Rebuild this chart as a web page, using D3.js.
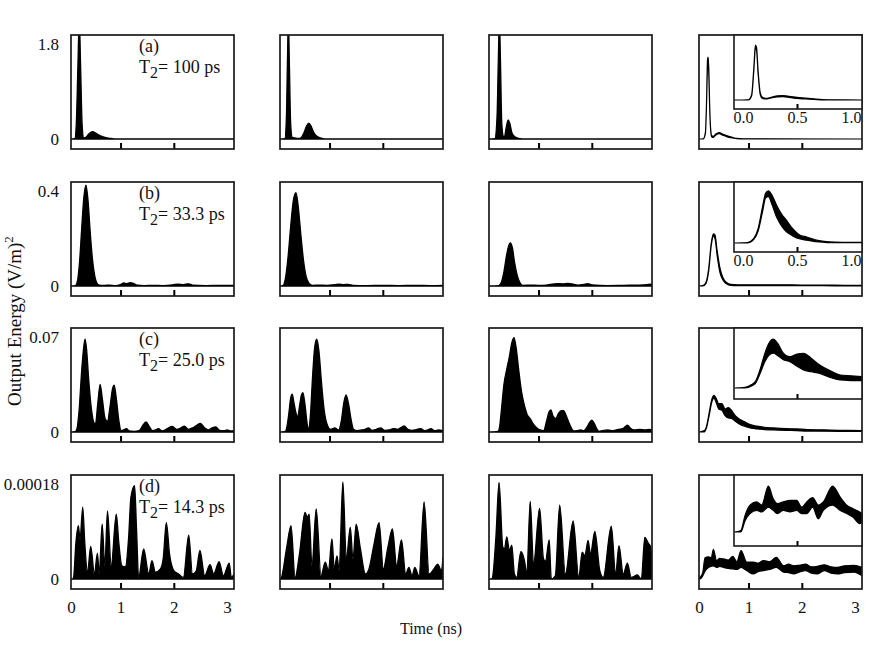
<!DOCTYPE html>
<html>
<head>
<meta charset="utf-8">
<script src="https://cdn.jsdelivr.net/npm/d3@7"></script>
<style>
  body { margin: 0; background: #fff; }
  text { font-family: "Liberation Serif", "Times New Roman", serif; fill: #111; }
</style>
</head>
<body>
<div id="chart"></div>
<script>
// ---- data ----
const rowMax = [1.8, 0.4, 0.07, 0.00018];
const rowLabels = ["(a)", "(b)", "(c)", "(d)"];
const t2Labels = ["100 ps", "33.3 ps", "25.0 ps", "14.3 ps"];
const xTickLabels = [0, 1, 2, 3];
const insetTickLabels = [0.0, 0.5, 1.0];

// filled traces: [time ns, energy]
const a1 = [[0.07,0],[0.14,0.005],[0.17,0.3],[0.2,1.4],[0.225,2.3],[0.25,1.4],[0.28,0.25],[0.31,0.02],[0.35,0.03],[0.38,0.07],[0.43,0.12],[0.48,0.14],[0.52,0.12],[0.57,0.09],[0.62,0.06],[0.68,0.04],[0.75,0.02],[0.82,0.01],[0.9,0],[3.13,0]];
const a2 = [[0.07,0],[0.16,0.005],[0.19,0.4],[0.21,1.5],[0.227,2.3],[0.245,1.5],[0.27,0.3],[0.3,0.03],[0.35,0.02],[0.42,0.01],[0.47,0.03],[0.52,0.12],[0.57,0.25],[0.61,0.3],[0.65,0.25],[0.7,0.13],[0.75,0.06],[0.8,0.03],[0.86,0.01],[0.92,0],[3.13,0]];
const a3 = [[0.07,0],[0.18,0.005],[0.22,0.4],[0.245,1.5],[0.265,2.3],[0.285,1.5],[0.31,0.3],[0.34,0.05],[0.36,0.04],[0.39,0.2],[0.43,0.36],[0.46,0.3],[0.5,0.12],[0.55,0.05],[0.6,0.02],[0.66,0.005],[0.72,0],[3.13,0]];

const b1 = [[0.07,0],[0.15,0.001],[0.19,0.02],[0.23,0.1],[0.27,0.24],[0.31,0.37],[0.35,0.425],[0.39,0.36],[0.43,0.23],[0.47,0.12],[0.51,0.05],[0.55,0.015],[0.6,0.004],[0.7,0.003],[0.8,0.004],[0.9,0.002],[1.0,0.006],[1.06,0.013],[1.12,0.01],[1.18,0.014],[1.25,0.01],[1.31,0.004],[1.45,0.002],[1.6,0.003],[1.8,0.002],[1.98,0.005],[2.08,0.008],[2.18,0.006],[2.28,0.009],[2.35,0.004],[2.6,0.002],[2.9,0.003],[3.13,0.002]];
const b2 = [[0.07,0],[0.12,0.001],[0.17,0.03],[0.22,0.12],[0.27,0.25],[0.32,0.36],[0.37,0.393],[0.41,0.34],[0.46,0.22],[0.51,0.11],[0.56,0.04],[0.62,0.01],[0.68,0.003],[0.8,0.004],[0.95,0.003],[1.1,0.006],[1.18,0.008],[1.26,0.006],[1.35,0.007],[1.44,0.003],[1.7,0.002],[2.0,0.003],[2.3,0.002],[2.6,0.003],[2.9,0.002],[3.13,0.003]];
const b3 = [[0.07,0],[0.25,0.001],[0.3,0.015],[0.35,0.06],[0.4,0.13],[0.44,0.17],[0.47,0.182],[0.51,0.16],[0.55,0.1],[0.6,0.045],[0.65,0.014],[0.7,0.003],[0.85,0.004],[1.0,0.003],[1.15,0.004],[1.22,0.007],[1.35,0.01],[1.45,0.009],[1.55,0.011],[1.65,0.008],[1.75,0.004],[1.85,0.007],[1.92,0.01],[2.0,0.005],[2.3,0.002],[2.6,0.003],[2.9,0.004],[3.13,0.008]];

const c1 = [[0.07,0],[0.15,0.0003],[0.18,0.002],[0.22,0.015],[0.27,0.045],[0.31,0.063],[0.334,0.0685],[0.36,0.062],[0.4,0.04],[0.45,0.018],[0.5,0.007],[0.53,0.006],[0.57,0.02],[0.617,0.035],[0.66,0.024],[0.71,0.01],[0.755,0.008],[0.8,0.018],[0.85,0.032],[0.88,0.0346],[0.92,0.025],[0.97,0.008],[1.01,0.001],[1.06,0.0015],[1.11,0.0025],[1.16,0.0008],[1.25,0.0005],[1.35,0.001],[1.42,0.005],[1.48,0.0074],[1.54,0.004],[1.6,0.001],[1.66,0.0015],[1.71,0.0025],[1.78,0.0008],[1.88,0.0025],[1.97,0.0042],[2.05,0.002],[2.13,0.003],[2.2,0.0044],[2.27,0.002],[2.35,0.003],[2.43,0.005],[2.5,0.0064],[2.58,0.003],[2.65,0.0015],[2.72,0.003],[2.79,0.0037],[2.86,0.0012],[2.94,0.001],[3.0,0.0015],[3.06,0.0008],[3.13,0.001]];
const c2 = [[0.07,0],[0.17,0.0005],[0.2,0.004],[0.24,0.015],[0.27,0.025],[0.3,0.0278],[0.33,0.022],[0.37,0.014],[0.4,0.011],[0.44,0.02],[0.47,0.027],[0.5,0.029],[0.54,0.02],[0.58,0.006],[0.605,0.002],[0.64,0.012],[0.68,0.04],[0.72,0.062],[0.76,0.0685],[0.8,0.06],[0.85,0.036],[0.9,0.016],[0.96,0.005],[1.02,0.002],[1.1,0.003],[1.17,0.0015],[1.22,0.008],[1.27,0.022],[1.31,0.0273],[1.36,0.02],[1.41,0.008],[1.45,0.002],[1.52,0.001],[1.6,0.0015],[1.67,0.002],[1.73,0.003],[1.8,0.0012],[1.88,0.002],[1.96,0.003],[2.04,0.0012],[2.12,0.0015],[2.2,0.0025],[2.28,0.002],[2.35,0.0035],[2.4,0.0045],[2.47,0.002],[2.55,0.0012],[2.63,0.0018],[2.71,0.0025],[2.78,0.001],[2.85,0.0015],[2.9,0.0025],[2.97,0.001],[3.05,0.0015],[3.13,0.001]];
const c3 = [[0.07,0],[0.24,0.0005],[0.265,0.003],[0.3,0.015],[0.35,0.035],[0.4,0.0457],[0.45,0.055],[0.5,0.066],[0.54,0.0695],[0.58,0.062],[0.63,0.045],[0.68,0.03],[0.72,0.022],[0.76,0.016],[0.79,0.0125],[0.84,0.01],[0.9,0.006],[0.97,0.003],[1.03,0.0015],[1.095,0.001],[1.15,0.008],[1.2,0.015],[1.235,0.0162],[1.27,0.012],[1.32,0.01],[1.38,0.014],[1.43,0.0157],[1.47,0.0157],[1.52,0.012],[1.58,0.006],[1.63,0.002],[1.66,0.0008],[1.72,0.001],[1.79,0.0015],[1.85,0.001],[1.9,0.003],[1.96,0.007],[2.0,0.0088],[2.05,0.006],[2.1,0.002],[2.13,0.0005],[2.2,0.001],[2.3,0.0015],[2.4,0.001],[2.5,0.002],[2.58,0.0025],[2.63,0.004],[2.67,0.005],[2.72,0.003],[2.8,0.0015],[2.9,0.002],[3.0,0.0015],[3.08,0.002],[3.13,0.0015]];

const d1 = [[0.07,0],[0.1,0],[0.12,0.4e-5],[0.16,6.6e-5],[0.208,10.1e-5],[0.24,7.6e-5],[0.29,13.6e-5],[0.33,6.6e-5],[0.38,1.3e-5],[0.44,6.2e-5],[0.51,0.95e-5],[0.566,4.9e-5],[0.6,0.95e-5],[0.655,10.4e-5],[0.705,2.5e-5],[0.755,12.9e-5],[0.825,2.5e-5],[0.92,12.3e-5],[0.97,6.6e-5],[1.026,2.5e-5],[1.09,2.3e-5],[1.15,7.6e-5],[1.195,15.5e-5],[1.264,17.7e-5],[1.3,9.5e-5],[1.34,0.3e-5],[1.434,5.7e-5],[1.53,0.95e-5],[1.59,3.5e-5],[1.655,1.3e-5],[1.75,1.9e-5],[1.8,3.8e-5],[1.86,10.7e-5],[1.92,4.7e-5],[2.0,1.6e-5],[2.09,0.95e-5],[2.18,0.3e-5],[2.28,8.3e-5],[2.35,0.95e-5],[2.42,1.5e-5],[2.49,5.4e-5],[2.58,0.6e-5],[2.68,2.7e-5],[2.75,0.95e-5],[2.85,3.3e-5],[2.93,0.6e-5],[3.04,3.0e-5],[3.08,0.3e-5],[3.13,0.95e-5]];
const d2 = [[0.07,0],[0.09,0],[0.1,0.3e-5],[0.196,6.0e-5],[0.277,10.1e-5],[0.353,0.3e-5],[0.435,4.7e-5],[0.54,12.6e-5],[0.585,11.7e-5],[0.617,12.3e-5],[0.67,2.5e-5],[0.75,13.3e-5],[0.84,0.6e-5],[0.92,3.2e-5],[0.98,1.6e-5],[1.045,7.6e-5],[1.09,1.9e-5],[1.14,4.4e-5],[1.18,1.6e-5],[1.25,18.4e-5],[1.315,3.8e-5],[1.39,9.8e-5],[1.44,3.8e-5],[1.5,10.4e-5],[1.58,5.7e-5],[1.675,0.95e-5],[1.74,1.9e-5],[1.83,6.3e-5],[1.93,10.7e-5],[2.01,1.9e-5],[2.095,6.0e-5],[2.18,9.5e-5],[2.26,2.5e-5],[2.35,7.4e-5],[2.43,0.95e-5],[2.49,2.2e-5],[2.55,0.6e-5],[2.6,2.2e-5],[2.68,0.6e-5],[2.775,14.6e-5],[2.87,0.95e-5],[2.96,1.9e-5],[3.03,2.8e-5],[3.1,1.6e-5],[3.13,4.1e-5]];
const d3v = [[0.07,0],[0.12,0],[0.14,0.5e-5],[0.2,8.0e-5],[0.259,18.3e-5],[0.33,6.0e-5],[0.36,5.7e-5],[0.404,8.0e-5],[0.453,5.4e-5],[0.498,6.4e-5],[0.547,0.95e-5],[0.59,0.3e-5],[0.668,5.2e-5],[0.736,3.5e-5],[0.78,0.95e-5],[0.844,14.7e-5],[0.906,2.8e-5],[1.02,13.4e-5],[1.094,3.8e-5],[1.13,3.4e-5],[1.2,7.4e-5],[1.24,0],[1.315,0.6e-5],[1.397,14.0e-5],[1.504,0.95e-5],[1.65,11.0e-5],[1.755,0.3e-5],[1.82,5.1e-5],[1.87,4.4e-5],[1.93,7.3e-5],[1.975,4.7e-5],[2.057,9.0e-5],[2.15,1.6e-5],[2.215,0.3e-5],[2.366,10.0e-5],[2.447,0.95e-5],[2.51,6.3e-5],[2.59,0.95e-5],[2.668,3.0e-5],[2.74,0.3e-5],[2.855,0.76e-5],[2.93,0],[2.995,7.9e-5],[3.06,6.8e-5],[3.108,6.0e-5],[3.13,0.3e-5]];

// right-hand traces drawn as a band: [time ns, lower, upper]
const a4 = [[0.07,0,0],[0.15,0,0.005],[0.19,0.1,0.12],[0.21,0.6,0.65],[0.23,1.4,1.5],[0.24,1.5,1.55],[0.255,1.2,1.3],[0.27,0.6,0.65],[0.29,0.15,0.18],[0.31,0.04,0.06],[0.34,0.03,0.05],[0.38,0.07,0.09],[0.45,0.1,0.12],[0.52,0.07,0.09],[0.6,0.04,0.06],[0.7,0.02,0.03],[0.78,0.005,0.01],[0.9,0,0.005],[3.13,0,0]];
const b4 = [[0.07,0,0],[0.14,0,0.002],[0.2,0.01,0.015],[0.25,0.06,0.07],[0.3,0.17,0.18],[0.34,0.21,0.22],[0.37,0.2,0.215],[0.41,0.13,0.15],[0.46,0.06,0.08],[0.52,0.025,0.035],[0.58,0.01,0.016],[0.66,0.003,0.007],[0.8,0.001,0.005],[1.2,0.002,0.005],[1.6,0.001,0.005],[2.0,0.001,0.004],[2.4,0.001,0.004],[2.8,0,0.003],[3.13,0,0.003]];
const c4 = [[0.07,0,0],[0.17,0,0.001],[0.21,0.003,0.004],[0.26,0.012,0.014],[0.31,0.022,0.024],[0.35,0.025,0.027],[0.39,0.022,0.025],[0.44,0.017,0.021],[0.5,0.016,0.021],[0.56,0.012,0.017],[0.62,0.0103,0.018],[0.68,0.01,0.016],[0.75,0.008,0.012],[0.85,0.0054,0.0091],[0.95,0.004,0.007],[1.05,0.0028,0.0052],[1.16,0.0022,0.0044],[1.3,0.0018,0.0035],[1.47,0.0015,0.003],[1.7,0.0012,0.0025],[1.9,0.001,0.0023],[2.1,0.0007,0.0018],[2.4,0.0006,0.0016],[2.7,0.0005,0.0013],[2.9,0.0004,0.0012],[3.13,0.0004,0.0011]];
const d4 = [[0.07,0,0],[0.09,0,0.3e-5],[0.14,0.6e-5,1.2e-5],[0.183,1.5e-5,4.0e-5],[0.25,2.2e-5,4.2e-5],[0.3,2.4e-5,4.0e-5],[0.34,2.5e-5,5.6e-5],[0.4,2.2e-5,3.5e-5],[0.46,2.4e-5,3.9e-5],[0.53,2.2e-5,3.8e-5],[0.62,2.0e-5,3.6e-5],[0.705,1.9e-5,4.3e-5],[0.78,1.8e-5,3.3e-5],[0.86,2.2e-5,5.4e-5],[0.965,1.6e-5,3.2e-5],[1.09,0.95e-5,3.2e-5],[1.18,1.4e-5,3.0e-5],[1.28,1.6e-5,3.5e-5],[1.4,1.8e-5,3.3e-5],[1.52,2.2e-5,4.1e-5],[1.66,1.3e-5,2.5e-5],[1.75,1.2e-5,2.8e-5],[1.85,0.95e-5,2.5e-5],[1.95,1.3e-5,2.6e-5],[2.07,1.6e-5,2.8e-5],[2.18,1.1e-5,2.3e-5],[2.29,0.95e-5,2.4e-5],[2.42,1.6e-5,2.7e-5],[2.55,1.1e-5,2.3e-5],[2.67,0.95e-5,2.2e-5],[2.8,1.2e-5,2.5e-5],[2.98,1.3e-5,2.6e-5],[3.13,0.6e-5,2.2e-5]];

// insets: [time, lower, upper]
const aIn = [[-0.08,0,0],[0.05,0,0.005],[0.08,0.08,0.1],[0.1,0.55,0.6],[0.115,0.98,1.04],[0.125,0.95,1.0],[0.14,0.5,0.55],[0.16,0.1,0.13],[0.18,0.03,0.05],[0.21,0.02,0.03],[0.26,0.04,0.05],[0.32,0.06,0.08],[0.37,0.065,0.085],[0.43,0.05,0.07],[0.5,0.03,0.05],[0.58,0.02,0.035],[0.66,0.01,0.02],[0.74,0,0.008],[0.85,0,0.003],[1.1,0,0]];
const bIn = [[-0.08,0,0],[0.04,0,0.002],[0.1,0.015,0.02],[0.14,0.05,0.06],[0.18,0.13,0.15],[0.21,0.19,0.21],[0.235,0.195,0.22],[0.27,0.16,0.2],[0.31,0.11,0.16],[0.36,0.07,0.12],[0.4,0.048,0.097],[0.46,0.03,0.06],[0.52,0.018,0.035],[0.59,0.012,0.025],[0.67,0.006,0.013],[0.75,0.003,0.007],[0.85,0.001,0.004],[1.0,0.001,0.003],[1.1,0.001,0.003]];
const cIn = [[-0.08,0,0],[0.02,0,0.0005],[0.08,0.0015,0.0025],[0.12,0.004,0.0055],[0.16,0.011,0.014],[0.2,0.019,0.025],[0.24,0.024,0.033],[0.28,0.0256,0.036],[0.32,0.024,0.033],[0.37,0.021,0.026],[0.435,0.0194,0.023],[0.5,0.016,0.025],[0.56,0.0133,0.0256],[0.63,0.012,0.022],[0.71,0.0108,0.017],[0.8,0.008,0.013],[0.9,0.0059,0.0096],[1.0,0.0055,0.009],[1.1,0.0054,0.0083]];
const dIn = [[-0.08,0,0],[-0.02,0,0.3e-5],[0.02,2.2e-5,3.2e-5],[0.065,3.5e-5,5.1e-5],[0.127,4.1e-5,5.7e-5],[0.173,3.8e-5,5.1e-5],[0.235,4.7e-5,8.7e-5],[0.28,4.1e-5,6.3e-5],[0.318,3.5e-5,5.4e-5],[0.373,4.1e-5,5.7e-5],[0.435,3.8e-5,6.0e-5],[0.497,4.1e-5,6.0e-5],[0.543,3.5e-5,4.7e-5],[0.59,3.5e-5,5.7e-5],[0.645,4.7e-5,6.5e-5],[0.697,2.5e-5,5.1e-5],[0.744,4.1e-5,5.7e-5],[0.83,5.1e-5,8.7e-5],[0.9,4.1e-5,6.6e-5],[0.96,3.5e-5,5.1e-5],[1.02,2.8e-5,4.4e-5],[1.08,1.6e-5,3.8e-5],[1.1,1.9e-5,3.5e-5]];

const fills = [[a1, a2, a3], [b1, b2, b3], [c1, c2, c3], [d1, d2, d3v]];
const bands = [a4, b4, c4, d4];
const insets = [aIn, bIn, cIn, dIn];

// ---- layout ----
const W = 872, H = 667;
const colLeft = [71, 280, 489, 699];
const rowTop = [35, 182, 328, 475];
const panelW = 163, panelH = 114;
const zeroOff = 104, maxOff = 9;          // zero line / top tick, px below panel top
const timeDomain = [0.07, 3.13];
const insetLeft = 734, insetW = 128;
const insetH = [74, 70, 71, 71];
const insetZero = [65, 61, 60, 57];

const svg = d3.select("#chart").append("svg")
    .attr("width", W)
    .attr("height", H);

rowMax.forEach((ymax, r) => {
    const top = rowTop[r];
    const y = d3.scaleLinear()
                .domain([0, ymax])
                .range([top + zeroOff, top + maxOff]);

    colLeft.forEach((left, c) => {
        const x = d3.scaleLinear()
                    .domain(timeDomain)
                    .range([left, left + panelW])
                    .clamp(true);
        const g = svg.append("g");
        const clipId = `clip-${r}-${c}`;
        svg.append("clipPath").attr("id", clipId)
            .append("rect")
            .attr("x", left).attr("y", top)
            .attr("width", panelW).attr("height", panelH);
        const plot = g.append("g").attr("clip-path", `url(#${clipId})`);

        if (c < 3) {
            const area = d3.area()
                .x(d => x(d[0]))
                .y0(y(0))
                .y1(d => y(d[1]))
                .curve(d3.curveMonotoneX);
            plot.append("path")
                .datum(fills[r][c])
                .attr("d", area)
                .attr("fill", "#000")
                .attr("stroke", "#000")
                .attr("stroke-width", 1.3);
        } else {
            const band = d3.area()
                .x(d => x(d[0]))
                .y0(d => y(d[1]))
                .y1(d => y(d[2]))
                .curve(d3.curveMonotoneX);
            plot.append("path")
                .datum(bands[r])
                .attr("d", band)
                .attr("fill", "#000")
                .attr("stroke", "#000")
                .attr("stroke-width", 1.2);
        }

        // inner tick marks at 1 and 2 ns
        g.append("g")
            .attr("transform", `translate(0,${top + panelH})`)
            .call(d3.axisBottom(x).tickValues([1, 2]).tickSize(-6).tickFormat(""))
            .call(a => a.select(".domain").remove())
            .selectAll("line").attr("stroke", "#000").attr("stroke-width", 2);

        g.append("rect")
            .attr("x", left).attr("y", top)
            .attr("width", panelW).attr("height", panelH)
            .attr("fill", "none")
            .attr("stroke", "#1a1a1a")
            .attr("stroke-width", 1.7);

        if (c === 0) {
            g.append("g")
                .attr("transform", `translate(${left},0)`)
                .call(d3.axisLeft(y).tickValues([0, ymax]).tickSize(0).tickPadding(12)
                        .tickFormat(d => String(d)))
                .call(a => a.select(".domain").remove())
                .selectAll("text")
                .attr("font-size", 17)
                .style("font-family", '"Liberation Serif", serif');

            g.append("text")
                .attr("x", left + 68)
                .attr("y", top + 17)
                .attr("font-size", 18)
                .text(rowLabels[r]);
            const t2 = g.append("text")
                .attr("x", left + 68)
                .attr("y", top + 38)
                .attr("font-size", 18);
            t2.append("tspan").text("T");
            t2.append("tspan").attr("font-size", 16).attr("dy", 5).text("2");
            t2.append("tspan").attr("dy", -5).text("= " + t2Labels[r]);
        }

        if (r === 3 && (c === 0 || c === 3)) {
            g.append("g")
                .attr("transform", `translate(0,${top + panelH})`)
                .call(d3.axisBottom(x).tickValues(xTickLabels).tickSize(0).tickPadding(12)
                        .tickFormat(d3.format("d")))
                .call(a => a.select(".domain").remove())
                .selectAll("text")
                .attr("font-size", 17)
                .style("font-family", '"Liberation Serif", serif');
        }

        if (c === 3) {
            // inset
            const iTop = top, iBot = top + insetH[r];
            const ix = d3.scaleLinear().domain([0, 1])
                        .range([insetLeft + 9, insetLeft + 117]);
            const iy = d3.scaleLinear().domain([0, ymax])
                        .range([top + insetZero[r], top + insetZero[r] - 95]);
            const ig = svg.append("g");
            const iClip = `iclip-${r}`;
            svg.append("clipPath").attr("id", iClip)
                .append("rect")
                .attr("x", insetLeft).attr("y", iTop)
                .attr("width", insetW).attr("height", insetH[r]);
            ig.append("rect")
                .attr("x", insetLeft).attr("y", iTop)
                .attr("width", insetW).attr("height", insetH[r])
                .attr("fill", "#fff");
            const iband = d3.area()
                .x(d => ix(d[0]))
                .y0(d => iy(d[1]))
                .y1(d => iy(d[2]))
                .curve(d3.curveMonotoneX);
            ig.append("g").attr("clip-path", `url(#${iClip})`)
                .append("path")
                .datum(insets[r])
                .attr("d", iband)
                .attr("fill", "#000")
                .attr("stroke", "#000")
                .attr("stroke-width", 1.2);
            ig.append("g")
                .attr("transform", `translate(0,${iBot})`)
                .call(d3.axisBottom(ix).tickValues([0.5]).tickSize(-5).tickFormat(""))
                .call(a => a.select(".domain").remove())
                .selectAll("line").attr("stroke", "#000").attr("stroke-width", 2);
            ig.append("rect")
                .attr("x", insetLeft).attr("y", iTop)
                .attr("width", insetW).attr("height", insetH[r])
                .attr("fill", "none")
                .attr("stroke", "#1a1a1a")
                .attr("stroke-width", 1.6);
            if (r < 2) {
                ig.append("g")
                    .attr("transform", `translate(0,${iBot})`)
                    .call(d3.axisBottom(ix).tickValues(insetTickLabels).tickSize(0).tickPadding(3)
                            .tickFormat(d3.format(".1f")))
                    .call(a => a.select(".domain").remove())
                    .selectAll("text")
                    .attr("font-size", 16)
                    .style("font-family", '"Liberation Serif", serif');
            }
        }
    });
});

// axis titles
const yTitle = svg.append("text")
    .attr("transform", "translate(21,321) rotate(-90)")
    .attr("text-anchor", "middle")
    .attr("font-size", 19);
yTitle.append("tspan").text("Output Energy (V/m)");
yTitle.append("tspan").attr("font-size", 13).attr("dy", -8).text("2");

svg.append("text")
    .attr("x", 431)
    .attr("y", 634)
    .attr("text-anchor", "middle")
    .attr("font-size", 16)
    .text("Time (ns)");
</script>
</body>
</html>
